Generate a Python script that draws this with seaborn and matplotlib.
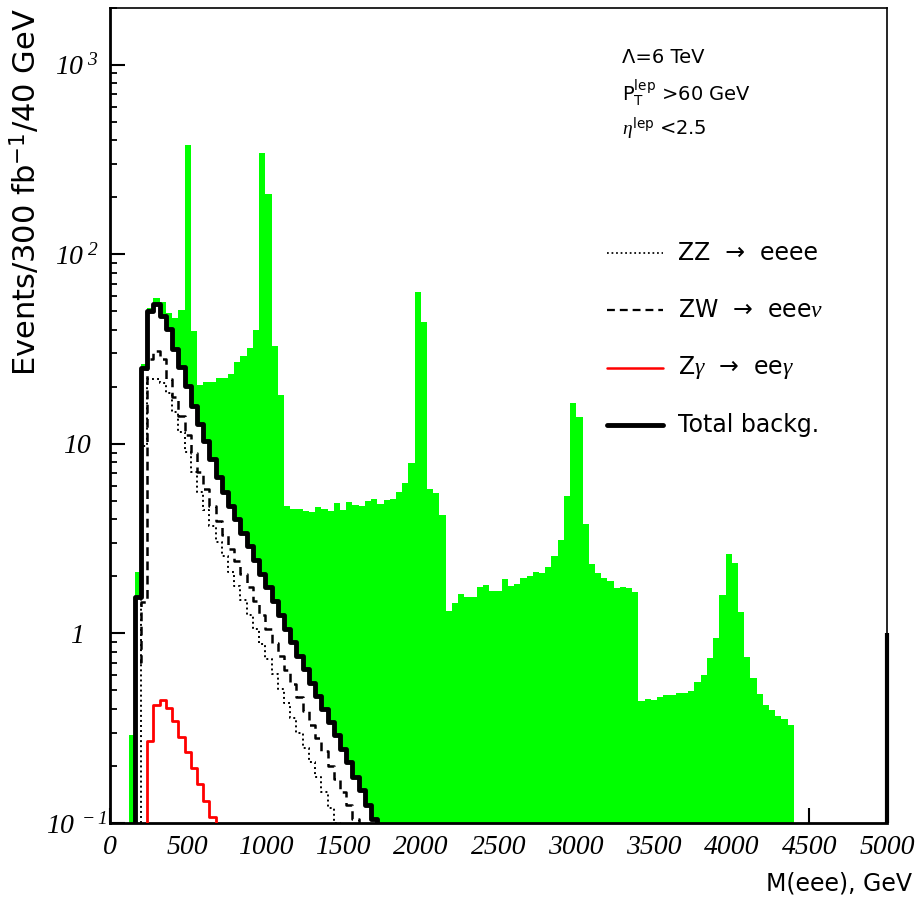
import numpy as np
import matplotlib
matplotlib.use('Agg')
import matplotlib.pyplot as plt
from matplotlib.ticker import LogLocator, NullFormatter
import seaborn as sns

BIN_W = 40

# signal + background (green), bins of 40 GeV starting at 120 GeV
signal_start = 120
signal_total = [0.29, 2.1, 26.4, 52, 58.5, 56, 49, 46, 51, 379, 39.5, 20.4, 21.1, 21.1,
                22.4, 22.4, 23.4, 26.9, 29.2, 32, 39.8, 343, 209, 33, 18.1,
                4.70, 4.55, 4.51, 4.45, 4.37, 4.64, 4.55, 4.45, 4.87, 4.46, 4.95, 4.77, 4.70,
                5.01, 5.14, 4.83, 5.07, 5.14, 5.57, 6.24, 7.94, 63, 44, 5.75, 5.52, 4.22,
                1.31, 1.44, 1.61, 1.56, 1.56, 1.76, 1.81, 1.68, 1.68, 1.94, 1.79, 1.83, 1.96,
                2.01, 2.11, 2.09, 2.23, 2.57, 3.13, 5.33, 16.4, 13.8, 3.79, 2.33, 2.09, 1.95,
                1.89, 1.73, 1.76, 1.73, 1.66,
                0.442, 0.451, 0.445, 0.464, 0.473, 0.473, 0.483, 0.483, 0.499, 0.557, 0.606,
                0.738, 0.945, 1.59, 2.64, 2.36, 1.29, 0.754, 0.585, 0.478, 0.42, 0.393,
                0.365, 0.354, 0.327]

# total background (black), from 120 GeV
total_start = 120
total_bkg = [0, 1.55, 25, 50.3, 54.6, 47.3, 40.3, 31.6, 25.3, 20.1, 15.9, 12.7, 10.3, 8.3,
             6.7, 5.6, 4.7, 4.0, 3.4, 2.9, 2.45, 2.05, 1.75, 1.48, 1.25, 1.06, 0.9, 0.76,
             0.65, 0.55, 0.47, 0.4, 0.34, 0.29, 0.245, 0.21, 0.175, 0.15, 0.125, 0.105,
             0.09]

# ZW -> eeenu (dashed)
zw_start = 120
zw_bkg = [0, 0.71, 1.47, 28, 31, 28, 22, 17.7, 14.1, 11.1, 9.0, 7.1, 5.8, 4.7, 3.9, 3.3,
          2.8, 2.4, 2.05, 1.75, 1.48, 1.25, 1.05, 0.89, 0.76, 0.64, 0.54, 0.46, 0.39,
          0.33, 0.28, 0.24, 0.2, 0.17, 0.145, 0.125, 0.105, 0.09]

# ZZ -> eeee (dotted)
zz_start = 160
zz_bkg = [0, 9.8, 22, 22, 21, 18.5, 14.7, 11.5, 9.1, 7.1, 5.6, 4.5, 3.7, 3.05, 2.55, 2.1,
          1.78, 1.5, 1.25, 1.05, 0.88, 0.73, 0.61, 0.51, 0.43, 0.36, 0.3, 0.25, 0.21,
          0.175, 0.145, 0.12, 0.1, 0.085]

# Z gamma -> ee gamma (red)
zg_start = 200
zg_bkg = [0, 0.27, 0.42, 0.445, 0.405, 0.345, 0.285, 0.238, 0.195, 0.16, 0.131, 0.108,
          0.088]

x_ticks = [0, 500, 1000, 1500, 2000, 2500, 3000, 3500, 4000, 4500, 5000]
y_ticks = [0.1, 1, 10, 100, 1000]
y_tick_labels = [r'$10^{\ -1}$', '1', '10', r'$10^{\ 2}$', r'$10^{\ 3}$']

legend_labels = ['ZZ  \u2192  eeee', 'ZW  \u2192  eee$\\nu$',
                 'Z$\\gamma$  \u2192  ee$\\gamma$', 'Total backg.']

sns.set_style('ticks')
plt.rcParams['font.family'] = ['DejaVu Sans']
plt.rcParams['mathtext.fontset'] = 'custom'
plt.rcParams['mathtext.rm'] = 'Liberation Serif:italic'
plt.rcParams['mathtext.it'] = 'Liberation Serif:italic'
plt.rcParams['mathtext.sf'] = 'DejaVu Sans'
for key in ['text.color', 'axes.labelcolor', 'xtick.color', 'ytick.color', 'axes.edgecolor']:
    plt.rcParams[key] = 'black'


def draw_hist(ax, start, values, **kw):
    edges = [start + BIN_W * k for k in range(len(values) + 1)]
    centers = [e + BIN_W / 2 for e in edges[:-1]]
    sns.histplot(x=centers, weights=values, bins=edges, ax=ax, **kw)


fig = plt.figure(figsize=(9.19, 9.13), dpi=100)
fig.patch.set_facecolor('white')
ax = fig.add_axes([0.1196, 0.0986, 0.8458, 0.8929])
ax.set_yscale('log')

draw_hist(ax, signal_start, signal_total, element='step', fill=True,
          color='#00ff00', alpha=1, linewidth=0, zorder=1)
# background area is drawn white over the green
draw_hist(ax, total_start, total_bkg, element='step', fill=True,
          color='white', alpha=1, linewidth=0, zorder=2)

styles = [
    (zz_start, zz_bkg, dict(color='black', linewidth=1.4, linestyle=(0, (1, 1.6)))),
    (zw_start, zw_bkg, dict(color='black', linewidth=1.8, linestyle=(0, (3.5, 2.2)))),
    (zg_start, zg_bkg, dict(color='#ff0000', linewidth=2.0, linestyle='-')),
    (total_start, total_bkg, dict(color='black', linewidth=3.5, linestyle='-')),
]
for start, vals, kw in styles:
    draw_hist(ax, start, vals, element='step', fill=False, zorder=3, **kw)

# edge mark on the right border
ax.vlines(5000, 0.1, 1.0, color='black', linewidth=3, zorder=4, clip_on=False)

ax.set_xlim(0, 5000)
ax.set_ylim(0.1, 2000)

# legend drawn by hand, ROOT style
rows_y = [0.6994, 0.6294, 0.5583, 0.4883]
for (start, vals, kw), label, yy in zip(styles, legend_labels, rows_y):
    lw = kw['linewidth'] if kw['linewidth'] > 2 else kw['linewidth'] * 0.9
    ax.plot([0.6394, 0.7122], [yy, yy], transform=ax.transAxes, color=kw['color'],
            linewidth=lw, linestyle=kw['linestyle'], clip_on=False)
    ax.text(0.731, yy, label, transform=ax.transAxes, fontsize=17, va='center', ha='left')

ax.text(0.659, 0.9387, '\u039b=6 TeV', transform=ax.transAxes, fontsize=14, va='center')
ax.text(0.659, 0.8957, r'P$_{\mathsf{T}}^{\mathsf{lep}}$ >60 GeV', transform=ax.transAxes,
        fontsize=14, va='center')
ax.text(0.659, 0.8528, r'$\eta^{\mathsf{lep}}$ <2.5', transform=ax.transAxes,
        fontsize=14, va='center')

# axes, ticks
ax.set_xticks(x_ticks)
ax.set_xticklabels([str(v) for v in x_ticks], fontfamily='Liberation Serif',
                   fontstyle='italic', fontsize=20)
ax.set_yticks(y_ticks)
ax.set_yticklabels(y_tick_labels, fontfamily='Liberation Serif', fontstyle='italic',
                   fontsize=20, ha='center')
ax.yaxis.set_minor_locator(LogLocator(base=10, subs=np.arange(2, 10)))
ax.yaxis.set_minor_formatter(NullFormatter())
ax.xaxis.set_minor_locator(plt.NullLocator())

ax.tick_params(axis='both', which='major', direction='in', length=10.8, width=1.5,
               top=False, right=False)
ax.tick_params(axis='y', which='minor', direction='in', length=5, width=1.3, right=False)
ax.tick_params(axis='x', which='major', pad=9)
ax.tick_params(axis='y', which='major', pad=24)

for side in ['left', 'bottom']:
    ax.spines[side].set_linewidth(2.0)
for side in ['top', 'right']:
    ax.spines[side].set_linewidth(1.2)

ax.set_xlabel('M(eee), GeV', fontsize=17, ha='right')
ax.xaxis.set_label_coords(1.032, -0.060)
ax.set_ylabel(r'Events/300 fb$^{\mathsf{-1}}$/40 GeV', fontsize=22, ha='right')
ax.yaxis.set_label_coords(-0.087, 1.0)

fig.savefig('out.png', dpi=100, facecolor='white')
